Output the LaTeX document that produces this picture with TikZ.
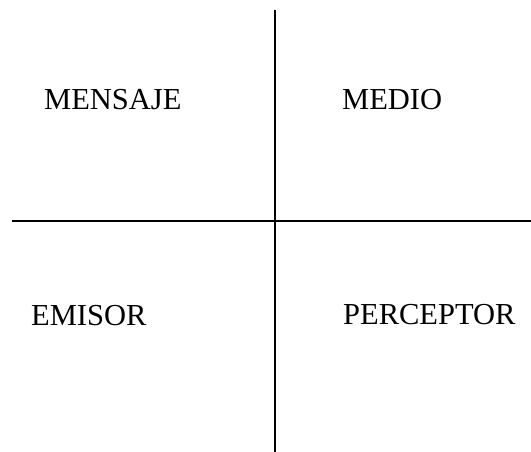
\documentclass[tikz,border=0pt]{standalone}
\usepackage{fontspec}
\setmainfont{Liberation Serif}
\begin{document}
\begin{tikzpicture}[x=1pt,y=1pt,
  lbl/.style={anchor=base west,inner sep=0pt,font=\fontsize{30.5}{36}\selectfont},
  axis/.style={line width=2pt,black}]
\useasboundingbox (0,0) rectangle (531,452);
\coordinate (vtop) at (274.7,442);
\coordinate (vbot) at (274.7,0);
\coordinate (hleft) at (12,231);
\coordinate (hright) at (531,231);
\draw[axis] (vtop) -- (vbot);
\draw[axis] (hleft) -- (hright);
\node[lbl] (mensaje) at (44,342) {MENSAJE};
\node[lbl] (medio) at (342,342) {MEDIO};
\node[lbl] (emisor) at (31,126) {EMISOR};
\node[lbl] (perceptor) at (343,127) {PERCEPTOR};
\end{tikzpicture}
\end{document}
